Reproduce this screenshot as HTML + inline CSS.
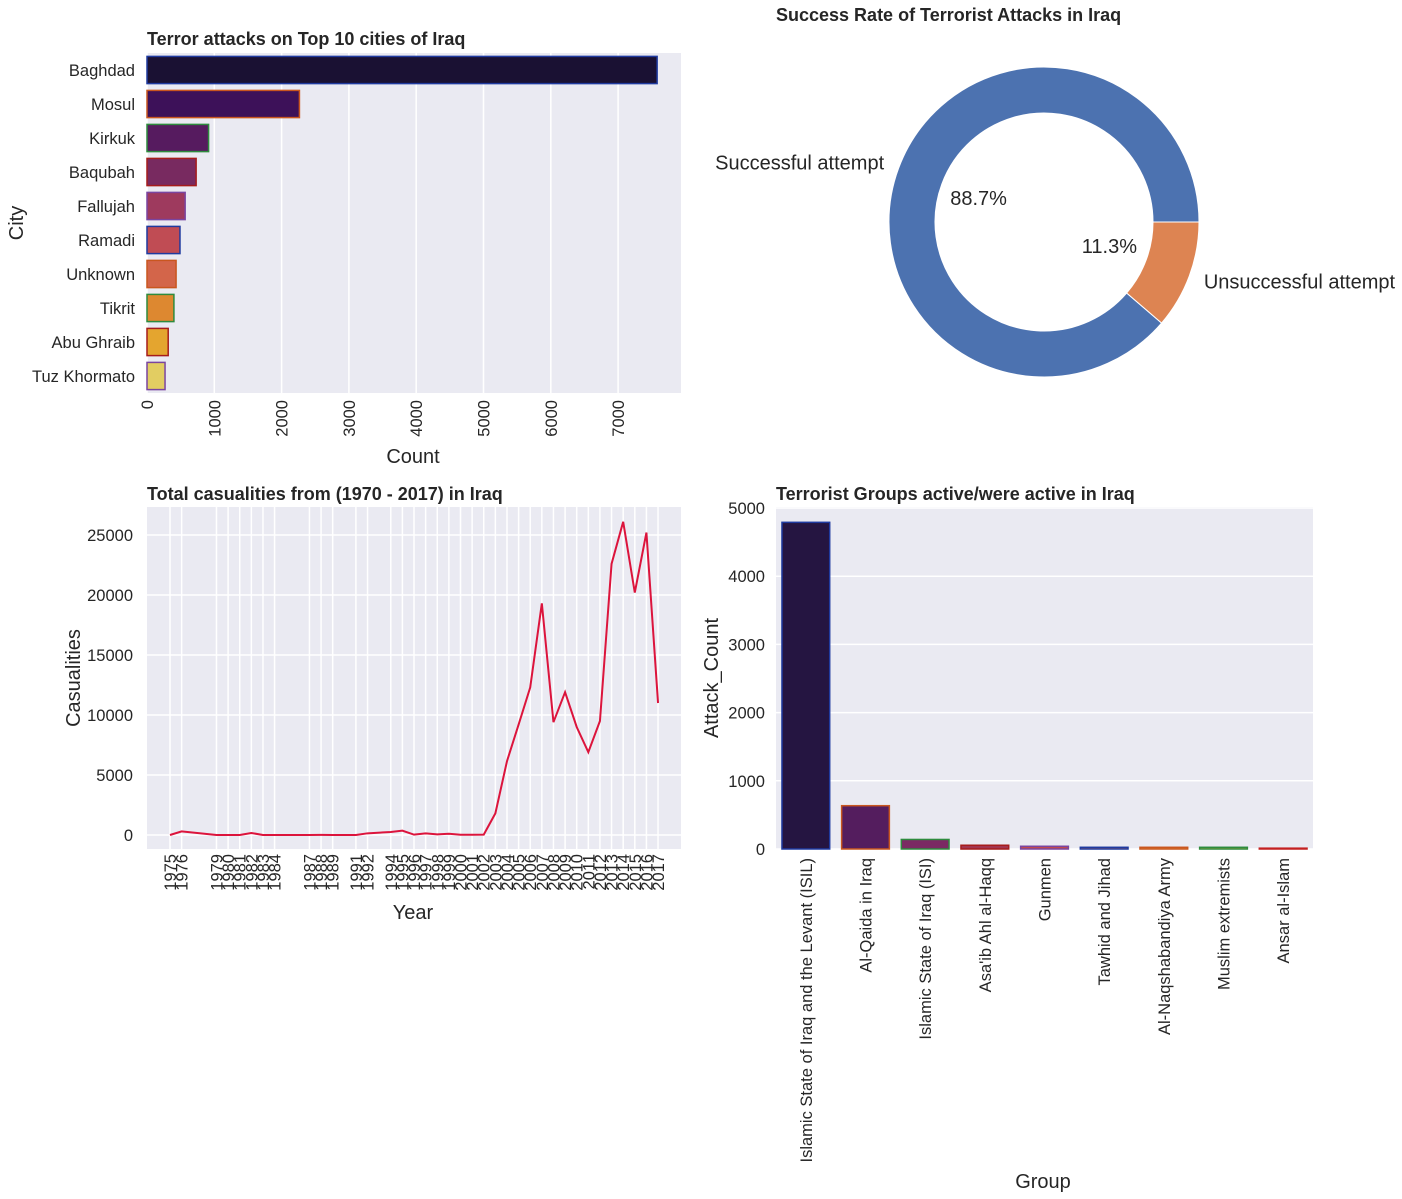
<!DOCTYPE html>
<html><head><meta charset="utf-8"><style>
body{margin:0;background:#fff;}
svg{display:block;font-family:"Liberation Sans","DejaVu Sans",sans-serif;}
</style></head><body>
<svg id="s" width="1402" height="1199" viewBox="0 0 1402 1199" xmlns="http://www.w3.org/2000/svg"></svg>
<script>
// ---- data ----
const cities = ["Baghdad","Mosul","Kirkuk","Baqubah","Fallujah","Ramadi","Unknown","Tikrit","Abu Ghraib","Tuz Khormato"];
const cityCounts = [7580,2265,915,730,567,490,432,400,315,268];
const cityTicks = [0,1000,2000,3000,4000,5000,6000,7000];
const pieLabels = ["Successful attempt","Unsuccessful attempt"];
const pieValues = [88.7,11.3];
const years = [1975,1976,1979,1980,1981,1982,1983,1984,1987,1988,1989,1991,1992,1994,1995,1996,1997,1998,1999,2000,2001,2002,2003,2004,2005,2006,2007,2008,2009,2010,2011,2012,2013,2014,2015,2016,2017];
const casualties = [0,300,0,0,0,170,0,0,0,10,0,0,140,250,360,30,140,50,100,20,20,30,1800,6150,9200,12300,19300,9400,11900,9000,6900,9500,22600,26100,20200,25200,11000];
const casTicks = [0,5000,10000,15000,20000,25000];
const groups = ["Islamic State of Iraq and the Levant (ISIL)","Al-Qaida in Iraq","Islamic State of Iraq (ISI)","Asa'ib Ahl al-Haqq","Gunmen","Tawhid and Jihad","Al-Naqshabandiya Army","Muslim extremists","Ansar al-Islam"];
const groupCounts = [4790,635,140,55,40,25,25,25,12];
const groupTicks = [0,1000,2000,3000,4000,5000];

const NS="http://www.w3.org/2000/svg";
const svg=document.getElementById('s');
function el(tag,attrs,parent,text){const e=document.createElementNS(NS,tag);for(const k in attrs)e.setAttribute(k,attrs[k]);if(text!==undefined)e.textContent=text;(parent||svg).appendChild(e);return e;}
const cityFill=["#1a1133","#3d1159","#561b5f","#782a60","#9e3a5e","#c04c54","#d3654a","#dd8830","#e4a52f","#e2cd62"];
const edges=["#1f3a9f","#c9561f","#2e8b3e","#a61c1c","#7a45a0"];
const grpFill=["#251541","#541d5e","#7b2a63","#a3354f","#c14a4d","#d2673c","#de8a2e","#e2ae36","#e5cf64"];
const grpEdges=["#1f3a9f","#c9561f","#2e8b3e","#a61c1c","#7a45a0","#1f3a9f","#c9561f","#2e8b3e","#c42020"];
const tf='fill:#262626';
const TK=16.5, AX=20, TT=18;

// ---- chart 1 ----
{
const g=el('g',{});
const L=147,R=681,T=53,B=393;
const x=v=>L+v*0.0673;
const band=(B-T)/cities.length;
el('rect',{x:L,y:T,width:R-L,height:B-T,fill:'#eaeaf2',},g);
cityTicks.forEach(t=>{
 el('line',{x1:x(t),x2:x(t),y1:T,y2:B,stroke:'#fff','stroke-width':1.5,},g);
 el('text',{transform:`translate(${x(t)+6},${B+7}) rotate(-90)`,'text-anchor':'end','font-size':TK,style:tf,},g,t);
});
cities.forEach((c,i)=>{
 const cy=T+band*(i+0.5);
 el('rect',{x:L,y:cy-band*0.4,width:x(cityCounts[i])-L,height:band*0.8,fill:cityFill[i],stroke:edges[i%5],'stroke-width':1.5,},g);
 el('text',{x:L-12,y:cy+6,'text-anchor':'end','font-size':TK,style:tf,},g,c);
});
el('text',{x:L,y:45,'font-size':TT,'font-weight':'bold',style:tf,},g,'Terror attacks on Top 10 cities of Iraq');
el('text',{x:413,y:463,'text-anchor':'middle','font-size':AX,style:tf,},g,'Count');
el('text',{transform:'translate(23,223) rotate(-90)','text-anchor':'middle','font-size':AX,style:tf,},g,'City');
}

// ---- chart 2: donut ----
{
const g=el('g',{});
const cx=1044,cy=222,ro=155,ri=109;
const cols=["#4c72b0","#dd8452"];
const total=pieValues.reduce((a,b)=>a+b,0);
let a0=0;
pieValues.forEach((v,i)=>{
 const sweep=v/total*2*Math.PI;
 const a1=a0+sweep;
 const p=(r,a)=>[cx+r*Math.cos(a),cy-r*Math.sin(a)];
 const [x0,y0]=p(ro,a0),[x1,y1]=p(ro,a1),[x2,y2]=p(ri,a1),[x3,y3]=p(ri,a0);
 const lg=sweep>Math.PI?1:0;
 el('path',{d:`M${x0},${y0} A${ro},${ro} 0 ${lg} 0 ${x1},${y1} L${x2},${y2} A${ri},${ri} 0 ${lg} 1 ${x3},${y3} Z`,fill:cols[i],stroke:'#fff','stroke-width':1,},g);
 const mid=a0+sweep/2;
 const [lx,ly]=p(ro*1.1,mid);
 el('text',{x:lx,y:ly+7,'text-anchor':Math.cos(mid)<0?'end':'start','font-size':AX,style:tf,},g,pieLabels[i]);
 const [px,py]=p(ro*0.45,mid);
 el('text',{x:px,y:py+7,'text-anchor':'middle','font-size':AX,style:tf,},g,v.toFixed(1)+'%');
 a0=a1;
});
el('text',{x:776,y:21,'font-size':TT,'font-weight':'bold',style:tf,},g,'Success Rate of Terrorist Attacks in Iraq');
}

// ---- chart 3: line ----
{
const g=el('g',{});
const L=147,R=681,T=507,B=849;
const x=v=>170+(v-1975)*11.62;
const y=v=>835-v*0.012;
el('rect',{x:L,y:T,width:R-L,height:B-T,fill:'#eaeaf2',},g);
casTicks.forEach(t=>{
 el('line',{x1:L,x2:R,y1:y(t),y2:y(t),stroke:'#fff','stroke-width':1.5,},g);
 el('text',{x:133,y:y(t)+6,'text-anchor':'end','font-size':TK,style:tf,},g,t);
});
years.forEach(yr=>{
 el('line',{x1:x(yr),x2:x(yr),y1:T,y2:B,stroke:'#fff','stroke-width':1.5,},g);
 el('text',{transform:`translate(${x(yr)+6},${B+5}) rotate(-90)`,'text-anchor':'end','font-size':TK,style:tf,},g,yr);
});
el('polyline',{points:years.map((yr,i)=>x(yr)+','+y(casualties[i])).join(' '),fill:'none',stroke:'#dc143c','stroke-width':2,},g);
el('text',{x:L,y:500,'font-size':TT,'font-weight':'bold',style:tf,},g,'Total casualities from (1970 - 2017) in Iraq');
el('text',{x:413,y:919,'text-anchor':'middle','font-size':AX,style:tf,},g,'Year');
el('text',{transform:'translate(80,678) rotate(-90)','text-anchor':'middle','font-size':AX,style:tf,},g,'Casualities');
}

// ---- chart 4: groups ----
{
const g=el('g',{});
const L=776,R=1313,T=507,B=849;
const y=v=>B-v*0.0682;
const band=(R-L)/groups.length;
el('rect',{x:L,y:T,width:R-L,height:B-T,fill:'#eaeaf2',},g);
groupTicks.forEach(t=>{
 el('line',{x1:L,x2:R,y1:y(t),y2:y(t),stroke:'#fff','stroke-width':1.5,},g);
 el('text',{x:765,y:y(t)+6,'text-anchor':'end','font-size':TK,style:tf,},g,t);
});
groups.forEach((n,i)=>{
 const cx=L+band*(i+0.5);
 el('rect',{x:cx-band*0.4,y:y(groupCounts[i]),width:band*0.8,height:B-y(groupCounts[i]),fill:grpFill[i],stroke:grpEdges[i],'stroke-width':1.5,},g);
 el('text',{transform:`translate(${cx+6},${B+9}) rotate(-90)`,'text-anchor':'end','font-size':TK,style:tf,},g,n);
});
el('text',{x:L,y:500,'font-size':TT,'font-weight':'bold',style:tf,},g,'Terrorist Groups active/were active in Iraq');
el('text',{x:1043,y:1188,'text-anchor':'middle','font-size':AX,style:tf,},g,'Group');
el('text',{transform:'translate(718,678) rotate(-90)','text-anchor':'middle','font-size':AX,style:tf,},g,'Attack_Count');
}
</script>
</body></html>
